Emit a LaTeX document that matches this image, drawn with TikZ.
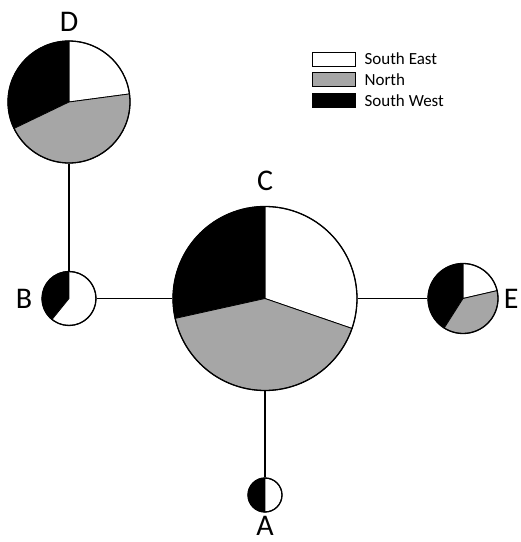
\documentclass[tikz,border=0pt]{standalone}
\usepackage{fontspec}
\setmainfont{Carlito}
\usetikzlibrary{positioning,backgrounds}
\definecolor{north}{RGB}{166,166,166}
% one slice of a pie: centre node, radius, start angle, end angle, colour
\newcommand{\pieslice}[5]{\filldraw[slice,fill=#5] (#1.center) -- ++(#3:#2) arc[start angle=#3,end angle=#4,radius=#2] -- cycle;}

\begin{document}
\begin{tikzpicture}[x=1pt,y=1pt]
\tikzset{haplo/.style={circle,draw,line width=1.3pt,inner sep=0pt}}
\tikzset{slice/.style={draw=black,line width=0.8pt}}
\tikzset{link/.style={line width=1.3pt}}
\tikzset{every label/.style={font=\fontsize{30}{30}\selectfont,inner sep=0pt}}
\tikzset{legbox/.style={draw,line width=0.8pt,minimum width=43pt,minimum height=14pt,inner sep=0pt}}
\tikzset{legtext/.style={font=\fontsize{17}{18}\selectfont,inner sep=0pt,anchor=west}}
\useasboundingbox (0,0) rectangle (521,542);

% haplotypes
\node[haplo,minimum size=184pt,label={[label distance=15pt]above:C}] (C) at (265,243.5) {};
\node[haplo,minimum size=122pt,label={[label distance=9pt]above:D}] (D) at (69,440) {};
\node[haplo,minimum size=54pt,label={[label distance=9pt]left:B}] (B) at (69,243.5) {};
\node[haplo,minimum size=70pt,label={[label distance=5pt]right:E}] (E) at (463,243.5) {};
\node[haplo,minimum size=34pt,label={[label distance=3pt]below:A}] (A) at (265,47) {};

\begin{scope}[on background layer]
\pieslice{C}{92}{-19}{90}{white}
\pieslice{C}{92}{90}{192.5}{black}
\pieslice{C}{92}{192.5}{341}{north}
\pieslice{D}{61}{7.6}{90}{white}
\pieslice{D}{61}{90}{205.7}{black}
\pieslice{D}{61}{205.7}{367.6}{north}
\pieslice{B}{27}{90}{231}{black}
\pieslice{B}{27}{231}{450}{white}
\pieslice{E}{35}{13}{90}{white}
\pieslice{E}{35}{90}{237.5}{black}
\pieslice{E}{35}{237.5}{373}{north}
\pieslice{A}{17}{90}{270}{black}
\pieslice{A}{17}{270}{450}{white}
\end{scope}

% network
\draw[link] (D) -- (B);
\draw[link] (B) -- (C);
\draw[link] (C) -- (E);
\draw[link] (C) -- (A);

% legend
\node[legbox,fill=white] (se) at (333.5,483) {};
\node[legbox,fill=north,below=6pt of se] (no) {};
\node[legbox,fill=black,below=6pt of no] (sw) {};
\node[legtext,right=9pt of se] {South East};
\node[legtext,right=9pt of no] {North};
\node[legtext,right=9pt of sw] {South West};
\end{tikzpicture}
\end{document}
